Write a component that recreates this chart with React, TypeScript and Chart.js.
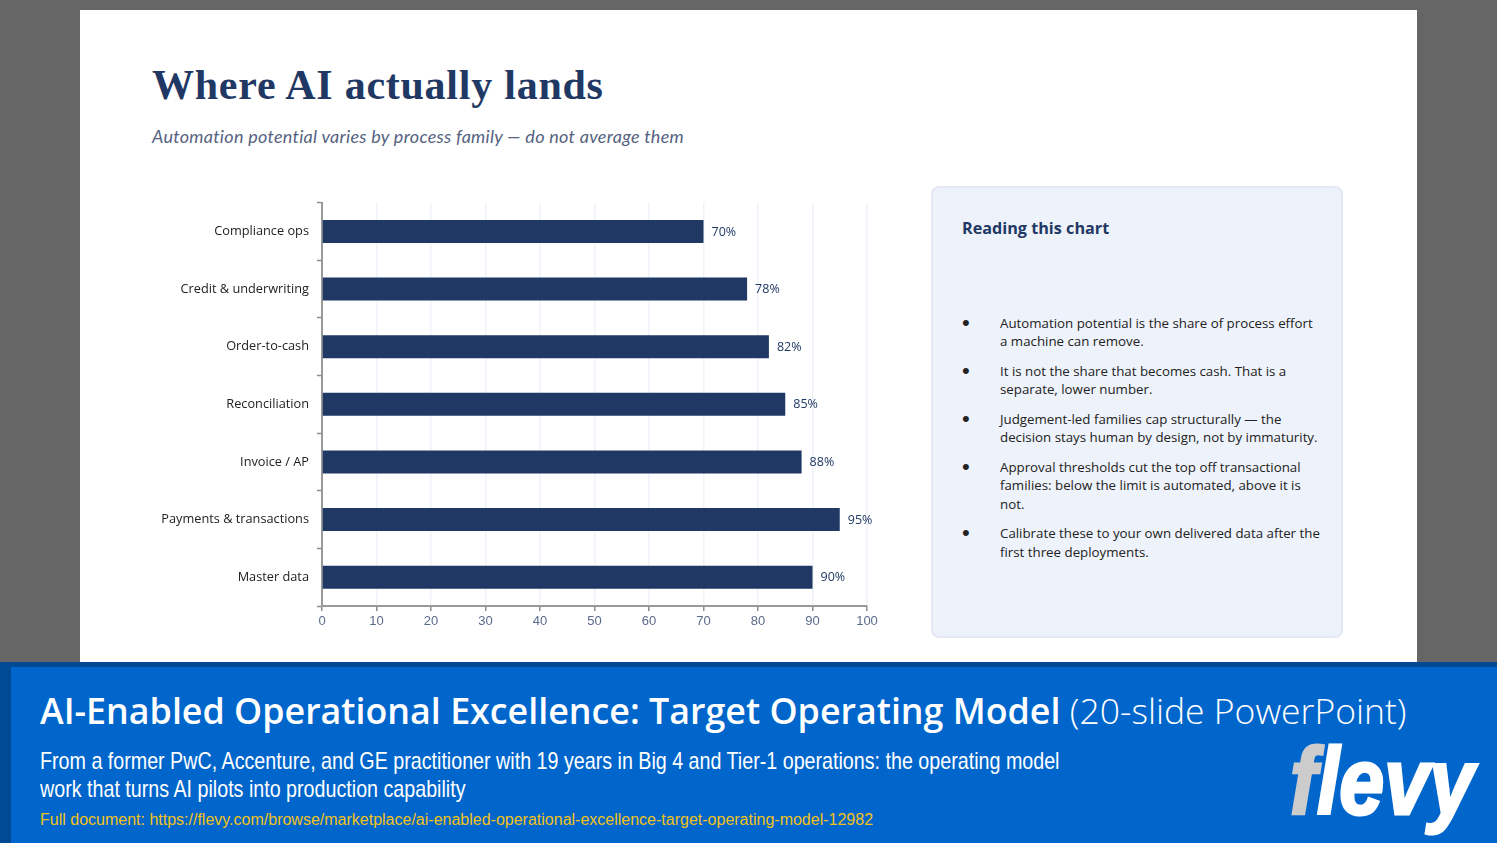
import { useEffect, useRef } from "react";
import { Chart, registerables } from "chart.js";

Chart.register(...registerables);

const categories = [
  "Compliance ops",
  "Credit & underwriting",
  "Order-to-cash",
  "Reconciliation",
  "Invoice / AP",
  "Payments & transactions",
  "Master data",
];
const potential = [70, 78, 82, 85, 88, 95, 90];
const xTicks = [0, 10, 20, 30, 40, 50, 60, 70, 80, 90, 100];

const notes = [
  ["Automation potential is the share of process effort", "a machine can remove."],
  ["It is not the share that becomes cash. That is a", "separate, lower number."],
  ["Judgement-led families cap structurally — the", "decision stays human by design, not by immaturity."],
  ["Approval thresholds cut the top off transactional", "families: below the limit is automated, above it is", "not."],
  ["Calibrate these to your own delivered data after the", "first three deployments."],
];

const NAVY = "#1f3864";

// value labels at the end of each bar
const barLabels = {
  id: "barLabels",
  afterDatasetsDraw(chart: Chart) {
    const { ctx } = chart;
    const meta = chart.getDatasetMeta(0);
    ctx.save();
    ctx.font = "12.5px 'Open Sans'";
    ctx.fillStyle = NAVY;
    ctx.textAlign = "left";
    ctx.textBaseline = "middle";
    meta.data.forEach((bar, i) => {
      ctx.fillText(`${potential[i]}%`, bar.x + 8, bar.y + 0.5);
    });
    ctx.restore();
  },
};

function PotentialChart() {
  const chartRef = useRef<HTMLCanvasElement | null>(null);

  useEffect(() => {
    if (!chartRef.current) return;
    const chart = new Chart(chartRef.current, {
      type: "bar",
      data: {
        labels: categories,
        datasets: [
          {
            data: potential,
            backgroundColor: NAVY,
            barPercentage: 0.4,
            categoryPercentage: 1,
          },
        ],
      },
      options: {
        indexAxis: "y",
        animation: false,
        responsive: false,
        layout: { padding: { top: 9, right: 23, bottom: 0, left: 0 } },
        plugins: { legend: { display: false }, tooltip: { enabled: false } },
        scales: {
          x: {
            min: 0,
            max: 100,
            afterBuildTicks: (scale) => {
              scale.ticks = xTicks.map((value) => ({ value }));
            },
            afterFit: (scale) => {
              scale.height = 34;
            },
            border: { color: "#999999", width: 2 },
            grid: { color: "#eef2f9", lineWidth: 1.5, tickColor: "#8c8c8c", tickLength: 5, tickWidth: 1.5 },
            ticks: {
              color: "#5b6b8c",
              font: { family: "'Liberation Sans'", size: 13 },
              padding: 3,
              maxRotation: 0,
              autoSkip: false,
            },
          },
          y: {
            afterFit: (scale) => {
              scale.width = 182;
            },
            border: { color: "#999999", width: 2 },
            grid: { drawOnChartArea: false, tickColor: "#8c8c8c", tickLength: 5, tickWidth: 1.5 },
            ticks: {
              color: "#222222",
              font: { family: "'Open Sans'", size: 12.75 },
              padding: 8,
              autoSkip: false,
            },
          },
        },
      },
      plugins: [barLabels],
    });
    return () => chart.destroy();
  }, []);

  return (
    <canvas
      ref={chartRef}
      width={750}
      height={453}
      style={{ position: "absolute", left: 140, top: 187, width: 750, height: 453 }}
    />
  );
}

function abs(left: number, top: number, extra: React.CSSProperties = {}): React.CSSProperties {
  return { position: "absolute", left, top, whiteSpace: "nowrap", ...extra };
}

export default function App() {
  return (
    <div style={{ position: "relative", width: 1497, height: 843, background: "#666666", overflow: "hidden" }}>
      <style>{"body{margin:0}"}</style>
      <div style={{ position: "absolute", left: 80, top: 10, width: 1337, height: 652, background: "#fff" }} />

      <div style={abs(152, 58, { font: "bold 42px 'Liberation Serif'", color: NAVY, lineHeight: "54px", letterSpacing: 0.75 })}>
        Where AI actually lands
      </div>
      <div style={abs(152, 125, { font: "italic 18px Lato", color: "#55627f", lineHeight: "22px", letterSpacing: 0.28 })}>
        Automation potential varies by process family — do not average them
      </div>

      <PotentialChart />

      <div
        style={{
          position: "absolute",
          left: 931,
          top: 186,
          width: 408,
          height: 448,
          background: "#eef2fa",
          border: "2px solid #e3e8f3",
          borderRadius: 8,
        }}
      />
      <div style={abs(962, 217, { font: "bold 16.2px 'Open Sans'", color: NAVY, lineHeight: "22px" })}>
        Reading this chart
      </div>
      <div style={{ position: "absolute", left: 962, top: 314, width: 370 }}>
        {notes.map((lines, i) => (
          <div key={i} style={{ position: "relative", paddingLeft: 38, marginBottom: 11.4 }}>
            <span style={{ position: "absolute", left: 0, top: 0, font: "22px/18.3px 'Liberation Sans'", color: "#222" }}>•</span>
            {lines.map((line) => (
              <div key={line} style={{ font: "13.3px/18.3px 'Open Sans'", color: "#222", whiteSpace: "nowrap" }}>
                {line}
              </div>
            ))}
          </div>
        ))}
      </div>

      <div style={{ position: "absolute", left: 0, top: 662, width: 1497, height: 181, background: "#004a93" }} />
      <div style={{ position: "absolute", left: 11, top: 667, width: 1486, height: 176, background: "#0066cc" }} />
      <div style={abs(40, 686, { font: "600 35.8px 'Open Sans'", color: "#fff", lineHeight: "48px" })}>
        AI-Enabled Operational Excellence: Target Operating Model{" "}
        <span style={{ fontWeight: 300, fontSize: 35.5 }}>(20-slide PowerPoint)</span>
      </div>
      <div
        style={abs(40, 746.5, {
          font: "24px/28.6px 'Liberation Sans'",
          color: "#fff",
          transform: "scaleX(0.82)",
          transformOrigin: "left top",
        })}
      >
        From a former PwC, Accenture, and GE practitioner with 19 years in Big 4 and Tier-1 operations: the operating model
        <br />
        work that turns AI pilots into production capability
      </div>
      <div style={abs(40, 809.5, { font: "16px/20px 'Liberation Sans'", color: "#f2c21a" })}>
        Full document: https://flevy.com/browse/marketplace/ai-enabled-operational-excellence-target-operating-model-12982
      </div>
      <div
        style={abs(1290, 721, {
          font: "italic bold 95px/120px 'Liberation Sans'",
          color: "#fff",
          WebkitTextStroke: "3px currentColor",
          transform: "scaleX(0.85)",
          transformOrigin: "left top",
        })}
      >
        <span style={{ color: "#cccccc" }}>f</span>levy
      </div>
    </div>
  );
}
